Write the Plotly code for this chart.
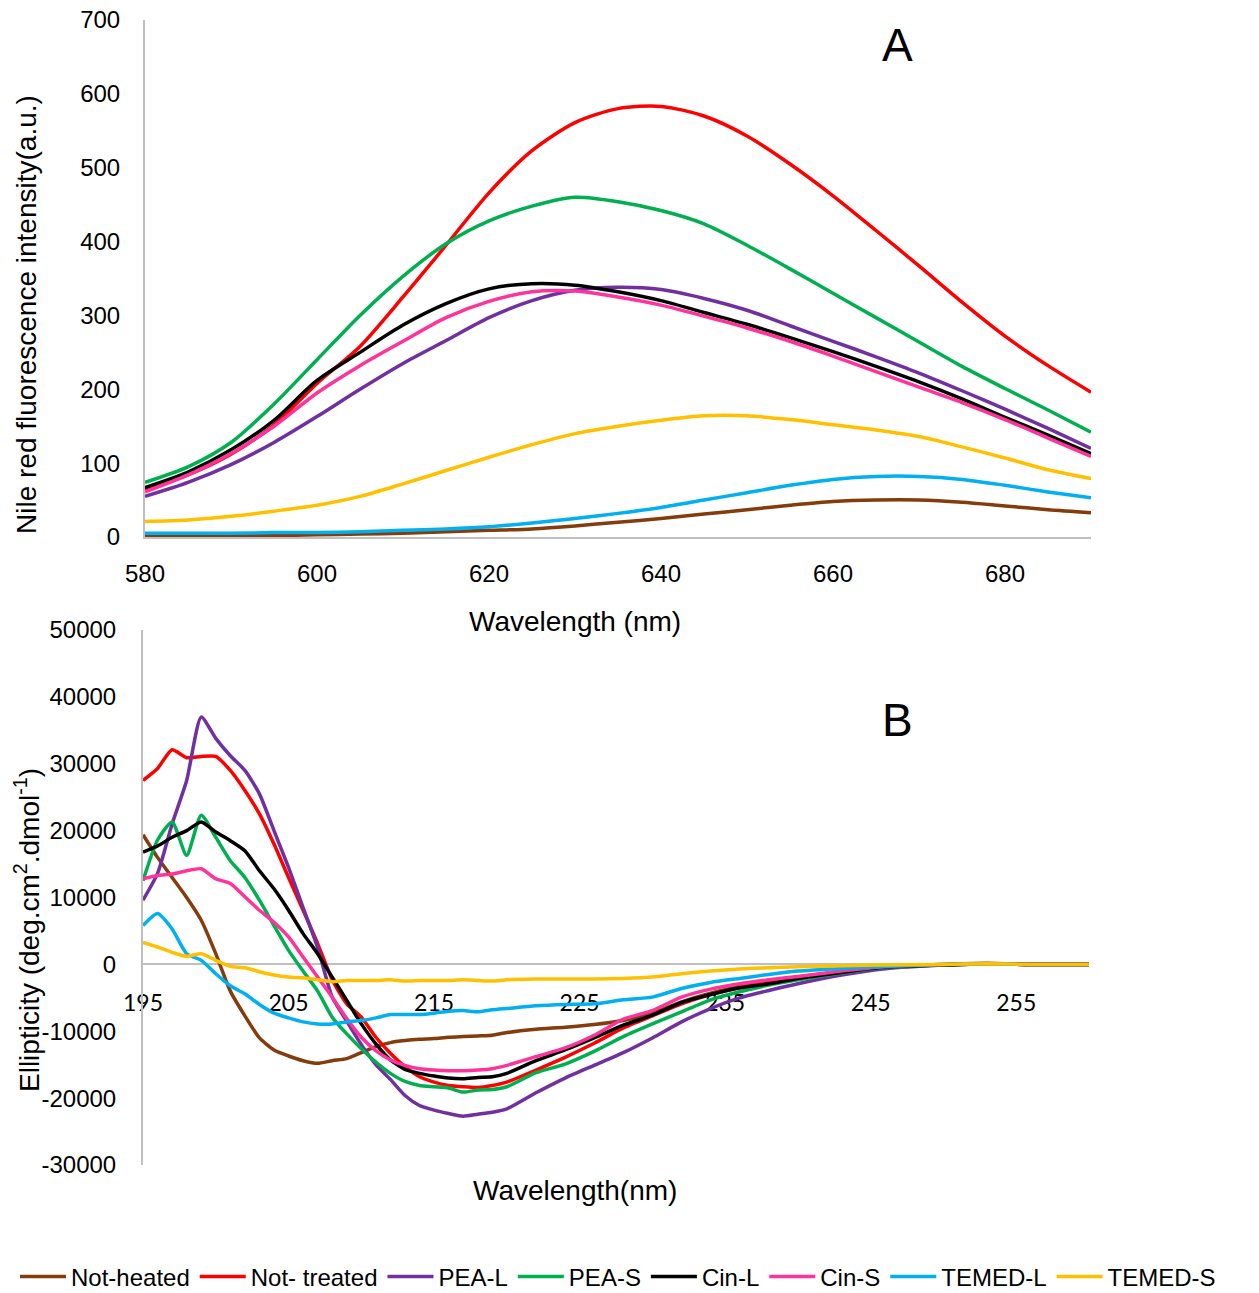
import plotly.graph_objects as go

# ---------------- Panel A: Nile red fluorescence ----------------
wl_a = [580, 585, 590, 595, 600, 605, 610, 615, 620, 625, 630, 635, 640, 645,
        650, 655, 660, 665, 670, 675, 680, 685, 690]

a_not_heated = [2, 2, 2, 2, 3, 4, 5, 7, 9, 11, 15, 20, 25, 31, 37, 43, 48, 50, 50, 47, 42, 37, 33]
a_not_treated = [64, 84, 112, 152, 208, 258, 325, 395, 466, 523, 561, 580, 583, 570, 543, 505, 462, 415, 367, 318, 272, 232, 196]
a_pea_l = [55, 74, 98, 128, 163, 200, 235, 266, 297, 320, 334, 338, 335, 323, 307, 286, 265, 244, 222, 198, 173, 147, 120]
a_pea_s = [74, 95, 128, 180, 240, 300, 353, 397, 428, 448, 460, 454, 442, 424, 395, 363, 330, 297, 264, 231, 201, 172, 142]
a_cin_l = [67, 88, 118, 158, 212, 250, 287, 316, 336, 343, 341, 332, 320, 304, 288, 270, 251, 231, 210, 187, 162, 138, 113]
a_cin_s = [61, 84, 113, 150, 195, 232, 265, 297, 319, 332, 333, 325, 314, 299, 283, 265, 245, 224, 203, 182, 159, 134, 109]
a_temed_l = [5, 5, 5, 6, 6, 7, 9, 11, 14, 19, 25, 32, 40, 50, 60, 70, 78, 82, 82, 78, 70, 61, 53]
a_temed_s = [21, 23, 28, 35, 43, 55, 72, 90, 108, 125, 140, 150, 158, 164, 164, 159, 152, 145, 136, 122, 107, 91, 79]

# ---------------- Panel B: CD ellipticity ----------------
wl_b = [195, 196, 197, 198, 199, 200, 201, 202, 203, 204, 205, 206, 207, 208, 209,
        210, 211, 212, 213, 214, 215, 216, 217, 218, 219, 220, 222, 224, 226, 228,
        230, 232, 234, 236, 238, 240, 243, 246, 250, 253, 256, 260]

b_not_heated = [19400, 16000, 13000, 10000, 6600, 1600, -4000, -7700, -11000, -12800, -13700,
                -14400, -14800, -14400, -14100, -13200, -12300, -11700, -11400, -11200, -11100,
                -10900, -10800, -10700, -10600, -10200, -9700, -9400, -9000, -8400, -7300,
                -5600, -4300, -3300, -2600, -1900, -1100, -400, 0, 150, 0, 0]
b_not_treated = [27500, 29300, 32100, 30900, 31100, 31100, 29000, 26000, 22500, 18000, 13000,
                 8100, 3100, -2300, -5900, -7900, -10900, -13300, -15300, -16800, -17600,
                 -18100, -18300, -18400, -18100, -17600, -15800, -13900, -11800, -9500, -7700,
                 -5900, -4500, -3500, -2700, -2000, -1100, -400, -100, 100, 0, 0]
b_pea_l = [9600, 13600, 21000, 27500, 37000, 33800, 31200, 29000, 25500, 20000, 14500,
           8500, 2500, -4900, -8500, -12000, -15000, -17200, -19600, -21100, -21800,
           -22300, -22700, -22400, -22100, -21600, -19200, -17000, -15100, -13200, -11000,
           -8600, -6600, -5000, -3900, -2900, -1600, -650, -100, 100, 0, 0]
b_pea_s = [12500, 18600, 21300, 16300, 22300, 19000, 15500, 13000, 9600, 5800, 2100,
           -1000, -4000, -7900, -10400, -12600, -14600, -16300, -17500, -18100, -18300,
           -18500, -19100, -18800, -18700, -18300, -16200, -14900, -13000, -10800, -8900,
           -7100, -5300, -4100, -3100, -2300, -1300, -450, -100, 100, 0, 0]
b_cin_l = [16800, 17700, 19000, 20000, 21300, 19800, 18500, 17000, 14000, 11300, 8100,
           4600, 1600, -1900, -5400, -8900, -11900, -14300, -15700, -16300, -16700,
           -17000, -17100, -16900, -16800, -16300, -14400, -12800, -11000, -9100, -7600,
           -5700, -4500, -3500, -2900, -2100, -1200, -400, -100, 100, 0, 0]
b_cin_s = [12800, 13300, 13500, 14000, 14300, 12800, 12100, 10100, 8100, 6300, 4100,
           1100, -1900, -4900, -8100, -10900, -12900, -14300, -15100, -15600, -15800,
           -15900, -15900, -15800, -15600, -15100, -13800, -12500, -10600, -8200, -6900,
           -4900, -3700, -2900, -2300, -1800, -1000, -300, 0, 100, 0, 0]
b_temed_l = [5800, 7600, 5300, 1600, 600, -1400, -3200, -4400, -6000, -7300, -8000,
             -8600, -8900, -8900, -8600, -8400, -8000, -7500, -7500, -7500, -7300,
             -7000, -6900, -7100, -6800, -6600, -6200, -6000, -5900, -5300, -4900,
             -3600, -2700, -2100, -1500, -1000, -600, -300, 0, 100, 0, 0]
b_temed_s = [3300, 2600, 1800, 1200, 1600, 600, -300, -500, -1100, -1600, -1900,
             -2000, -2300, -2600, -2400, -2400, -2400, -2300, -2500, -2400, -2400,
             -2400, -2300, -2400, -2500, -2300, -2200, -2200, -2200, -2100, -1900,
             -1400, -1000, -700, -500, -350, -200, -100, 0, 100, 0, 0]

names = ["Not-heated", "Not- treated", "PEA-L", "PEA-S", "Cin-L", "Cin-S", "TEMED-L", "TEMED-S"]
colors = ["#843C0C", "#FF0000", "#7030A0", "#00B050", "#000000", "#FF3399", "#00B0F0", "#FFC000"]
series_a = [a_not_heated, a_not_treated, a_pea_l, a_pea_s, a_cin_l, a_cin_s, a_temed_l, a_temed_s]
series_b = [b_not_heated, b_not_treated, b_pea_l, b_pea_s, b_cin_l, b_cin_s, b_temed_l, b_temed_s]

yticks_a = [0, 100, 200, 300, 400, 500, 600, 700]
xticks_a = [580, 600, 620, 640, 660, 680]
yticks_b = [-30000, -20000, -10000, 0, 10000, 20000, 30000, 40000, 50000]
xticks_b = [195, 205, 215, 225, 235, 245, 255]

# page has an 8px body margin: figure is sized to fill the rest of the window
OFF = 8
W, H = 1259 - OFF, 1293 - OFF
fig = go.Figure()

for n, c, ya in zip(names, colors, series_a):
    fig.add_trace(go.Scatter(x=wl_a, y=ya, mode="lines", name=n, legendgroup=n,
                             line=dict(color=c, width=3.5, shape="spline", smoothing=0.8),
                             xaxis="x", yaxis="y", showlegend=True))
for n, c, yb in zip(names, colors, series_b):
    fig.add_trace(go.Scatter(x=wl_b, y=yb, mode="lines", name=n, legendgroup=n,
                             line=dict(color=c, width=3.5, shape="spline", smoothing=0.6),
                             xaxis="x2", yaxis="y2", showlegend=False))

px = lambda v: (v - OFF) / W
py = lambda v: (H - (v - OFF)) / H

tick_font = dict(family="Liberation Sans, Arial, sans-serif", size=24, color="#000000")
axis_grey = "#BFBFBF"

bot_b, top_b = py(1165), py(630)
zero_pos = bot_b + 0.375 * (top_b - bot_b)

common = dict(showgrid=False, zeroline=False, showline=True, linecolor=axis_grey,
              linewidth=2, ticks="outside", tickcolor="rgba(0,0,0,0)",
              automargin=False, ticklabeloverflow="allow")

fig.update_layout(
    template="none",
    width=W, height=H,
    paper_bgcolor="white", plot_bgcolor="white",
    margin=dict(l=0, r=0, t=0, b=0, pad=0, autoexpand=False),
    font=dict(family="Liberation Sans, Arial, sans-serif", color="#000000"),
    xaxis=dict(domain=[px(145), px(1091)], range=[580, 690], tickvals=xticks_a,
               ticktext=[str(v) for v in xticks_a], ticklen=14,
               tickfont=tick_font, anchor="y", **common),
    yaxis=dict(domain=[py(537), py(20)], range=[0, 700], tickvals=yticks_a,
               ticktext=[str(v) for v in yticks_a], ticklen=18,
               tickfont=tick_font, anchor="x", **common),
    xaxis2=dict(domain=[px(143), px(1089)], range=[195, 260], tickvals=xticks_b,
                ticktext=[str(v) for v in xticks_b], ticklen=18,
                tickfont=dict(family="Lato, sans-serif", size=23, color="#000000"),
                anchor="free", position=zero_pos, layer="below traces", **common),
    yaxis2=dict(domain=[bot_b, top_b], range=[-30000, 50000], tickvals=yticks_b,
                ticktext=[str(v) for v in yticks_b], ticklen=20,
                tickfont=tick_font, anchor="x2", **common),
    legend=dict(orientation="h", x=px(618), xanchor="center", y=-0.005, yanchor="bottom",
                font=dict(family="Liberation Sans, Arial, sans-serif", size=24, color="#000000"),
                bgcolor="rgba(0,0,0,0)", itemwidth=46, tracegroupgap=0, borderwidth=0),
    showlegend=True,
)

title_font = dict(family="Liberation Sans, Arial, sans-serif", size=28, color="#000000")
ann = [
    dict(text="Nile red fluorescence intensity(a.u.)", x=px(26), y=py(315), textangle=-90),
    dict(text="Wavelength (nm)", x=px(575), y=py(621)),
    dict(text="Ellipticity (deg.cm<sup>2</sup>.dmol<sup>-1</sup>)", x=px(27), y=py(930), textangle=-90),
    dict(text="Wavelength(nm)", x=px(575), y=py(1190)),
]
for a in ann:
    fig.add_annotation(xref="paper", yref="paper", showarrow=False,
                       xanchor="center", yanchor="middle", font=title_font, **a)
for lab, yy in [("A", 45), ("B", 720)]:
    fig.add_annotation(text=lab, xref="paper", yref="paper", x=px(897), y=py(yy),
                       showarrow=False, xanchor="center", yanchor="middle",
                       font=dict(family="Liberation Sans, Arial, sans-serif", size=46, color="#000000"))

fig.write_html("out.html")
